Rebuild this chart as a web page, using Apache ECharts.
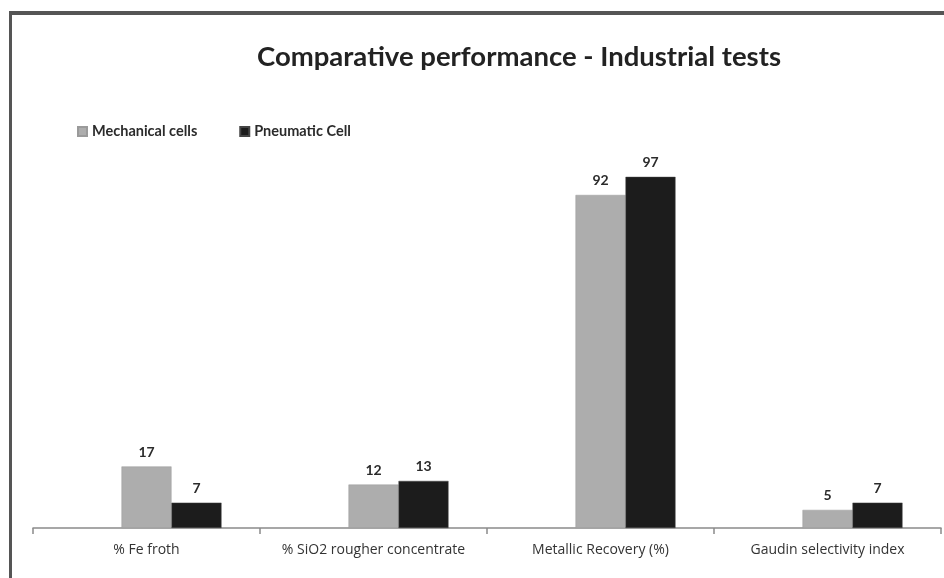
<!DOCTYPE html>
<html>
<head>
<meta charset="utf-8">
<title>Comparative performance - Industrial tests</title>
<script src="https://cdn.jsdelivr.net/npm/echarts@6/dist/echarts.min.js"></script>
<style>
  html, body { margin: 0; padding: 0; background: #ffffff; }
  #chart { width: 944px; height: 578px; }
</style>
</head>
<body>
<div id="chart"></div>
<script>
// Categories and measured results
const categories = ['% Fe froth', '% SiO2 rougher concentrate', 'Metallic Recovery (%)', 'Gaudin selectivity index'];
const mechanicalCells = [17, 12, 92, 5];
const pneumaticCell = [7, 13, 97, 7];
const seriesNames = ['Mechanical cells', 'Pneumatic Cell'];

const chart = echarts.init(document.getElementById('chart'), null, { renderer: 'canvas' });

const valueLabel = {
  show: true,
  position: 'top',
  distance: 7,
  fontFamily: 'Lato',
  fontWeight: 'bold',
  fontSize: 14,
  color: '#2b2b2b'
};

chart.setOption({
  backgroundColor: '#ffffff',
  animation: false,
  title: {
    text: 'Comparative performance - Industrial tests',
    left: 514,
    top: 38,
    textAlign: 'center',
    textStyle: {
      fontFamily: 'Lato',
      fontWeight: 'bold',
      fontSize: 27.5,
      color: '#222222'
    }
  },
  legend: {
    data: seriesNames,
    left: 72,
    top: 119,
    icon: 'rect',
    itemWidth: 9,
    itemHeight: 9,
    itemGap: 42,
    textStyle: {
      fontFamily: 'Lato',
      fontWeight: 'bold',
      fontSize: 14.5,
      color: '#2b2b2b'
    }
  },
  // frame around the chart area
  graphic: [
    { type: 'rect', shape: { x: 9, y: 11, width: 935, height: 4 }, style: { fill: '#555555' }, silent: true },
    { type: 'rect', shape: { x: 9, y: 11, width: 3, height: 567 }, style: { fill: '#555555' }, silent: true }
  ],
  grid: [
    // axis with category labels and boundary ticks
    { left: 33, right: 3, top: 166, bottom: 50, outerBoundsMode: 'none' },
    // bar placement, shifted half a bar to the right of the category centres
    { left: 58, right: -22, top: 166, bottom: 50, outerBoundsMode: 'none' }
  ],
  xAxis: [
    {
      type: 'category',
      gridIndex: 0,
      data: categories,
      boundaryGap: true,
      axisLine: { lineStyle: { color: '#8a8a8a', width: 1.5 } },
      axisTick: { show: true, interval: 0, length: 6, lineStyle: { color: '#8a8a8a', width: 1.5 } },
      axisLabel: {
        interval: 0,
        margin: 15,
        fontFamily: 'Open Sans',
        fontSize: 14,
        color: '#333333'
      }
    },
    {
      type: 'category',
      gridIndex: 1,
      data: categories,
      show: false
    }
  ],
  yAxis: [
    { type: 'value', gridIndex: 0, min: 0, max: 100, show: false, splitLine: { show: false } },
    { type: 'value', gridIndex: 1, min: 0, max: 100, show: false, splitLine: { show: false } }
  ],
  series: [
    {
      name: seriesNames[0],
      type: 'bar',
      xAxisIndex: 1,
      yAxisIndex: 1,
      data: mechanicalCells,
      barWidth: 50,
      barGap: '0%',
      itemStyle: { color: '#adadad', borderColor: '#9a9a9a', borderWidth: 0.5 },
      label: valueLabel
    },
    {
      name: seriesNames[1],
      type: 'bar',
      xAxisIndex: 1,
      yAxisIndex: 1,
      data: pneumaticCell,
      barWidth: 50,
      barGap: '0%',
      itemStyle: { color: '#1c1c1c', borderColor: '#444444', borderWidth: 0.5 },
      label: valueLabel
    }
  ]
});
</script>
</body>
</html>
